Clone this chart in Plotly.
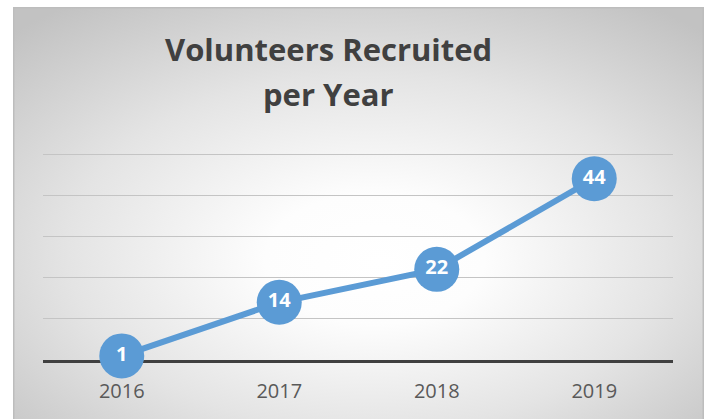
import base64
import plotly.graph_objects as go

# ---- data ----
years = ["2016", "2017", "2018", "2019"]
volunteers = [1, 14, 22, 44]
title_lines = ["Volunteers Recruited", "per Year"]

W, H = 705, 419
# plot area in pixels (y axis 0 at B, 50 at y=153)
L, R, T, B = 43, 673, 151, 360
pw, ph = R - L, B - T
ppu = (360 - 154) / 50.0  # pixels per unit
ytop = ph / ppu


def py(y):
    return (B - y) / ph


def px(x):
    return (x - L) / pw


# background box (radial gradient) as SVG image
bx0, by0, bx1, by1 = 13, 7, 704, 419
bw, bh = bx1 - bx0, by1 - by0
svg = f'''<svg xmlns="http://www.w3.org/2000/svg" width="{bw}" height="{bh}" viewBox="0 0 {bw} {bh}">
<defs><radialGradient id="g" cx="0.5" cy="0.58" r="0.72" fx="0.53" fy="0.62">
<stop offset="0" stop-color="#ffffff"/>
<stop offset="0.22" stop-color="#fdfdfd"/>
<stop offset="0.6" stop-color="#e4e4e4"/>
<stop offset="1" stop-color="#c2c2c2"/>
</radialGradient></defs>
<rect x="0" y="0" width="{bw}" height="{bh}" fill="url(#g)"/>
<rect x="0.75" y="0.75" width="{bw-1.5}" height="{bh+4}" fill="none" stroke="#bdbdbd" stroke-width="1.5"/>
</svg>'''
src = "data:image/svg+xml;base64," + base64.b64encode(svg.encode()).decode()

blue = "#5b9bd5"

fig = go.Figure()
fig.add_trace(go.Scatter(
    x=years, y=volunteers,
    mode="lines+markers+text",
    line=dict(color=blue, width=6),
    marker=dict(color=blue, size=45, line=dict(width=0)),
    text=[str(v) for v in volunteers],
    textposition="middle center",
    textfont=dict(family="Open Sans", size=20, color="white", weight="bold"),
    cliponaxis=False,
    hoverinfo="skip",
    showlegend=False,
))

fig.update_layout(
    width=W, height=H,
    margin=dict(l=L, r=W - R, t=T, b=H - B, pad=0),
    paper_bgcolor="white",
    plot_bgcolor="rgba(0,0,0,0)",
    images=[dict(
        source=src, xref="paper", yref="paper",
        x=px(bx0), y=py(by0), sizex=bw / pw, sizey=bh / ph,
        xanchor="left", yanchor="top", sizing="stretch", layer="below",
    )],
    xaxis=dict(
        type="category", range=[-0.5, 3.5],
        showgrid=False, zeroline=False,
        showline=True, linecolor="#404040", linewidth=3,
        ticks="outside", ticklen=11, tickcolor="rgba(0,0,0,0)",
        tickfont=dict(family="Open Sans", size=20, color="#595959"),
        layer="below traces", fixedrange=True,
    ),
    yaxis=dict(
        range=[0, ytop], dtick=10, tick0=0,
        showgrid=True, gridcolor="#c4c4c4", gridwidth=1,
        zeroline=False, showticklabels=False, showline=False,
        layer="below traces", fixedrange=True,
    ),
    annotations=[
        dict(text=title_lines[0], xref="paper", yref="paper",
             x=px(328), y=py(49), xanchor="center", yanchor="middle",
             showarrow=False,
             font=dict(family="Open Sans", size=31, color="#404040", weight="bold")),
        dict(text=title_lines[1], xref="paper", yref="paper",
             x=px(328), y=py(94), xanchor="center", yanchor="middle",
             showarrow=False,
             font=dict(family="Open Sans", size=31, color="#404040", weight="bold")),
    ],
)

fig.write_html("out.html", config={"displayModeBar": False},
               post_script="document.body.style.margin='0';")
